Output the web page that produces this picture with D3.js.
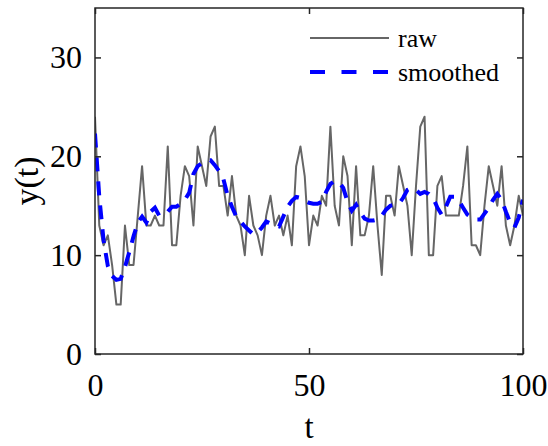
<!DOCTYPE html>
<html>
<head>
<meta charset="utf-8">
<script src="https://cdn.jsdelivr.net/npm/d3@7"></script>
<style>
  body { margin: 0; background: #fff; }
  svg { display: block; }
  text { font-family: "Liberation Serif", "Times New Roman", Times, "DejaVu Serif", serif; fill: #000; }
</style>
</head>
<body>
<svg id="chart" width="548" height="446"></svg>
<script>
// raw observations, one per time step t = 0..100
var raw = [24, 13, 11, 12, 9, 5, 5, 13, 9, 9,
           14, 19, 13, 13, 14, 13, 13, 21, 11, 11,
           16, 19, 18, 13, 21, 19, 17, 22, 23, 17,
           17, 14, 18, 14, 13, 10, 16, 13, 12, 10,
           14, 16, 13, 14, 12, 14, 11, 19, 21, 18,
           11, 14, 13, 16, 15, 23, 15, 13, 20, 18,
           11, 19, 12, 12, 14, 19, 13, 8, 16, 16,
           14, 19, 17, 15, 10, 17, 23, 24, 10, 10,
           17, 18, 14, 14, 14, 14, 17, 21, 11, 11,
           10, 15, 19, 17, 15, 19, 13, 11, 13, 16,
           14];

// smoothed estimate
var smoothed = [22.3, 15.9, 11.5, 8.9, 7.9, 7.5, 7.6, 8.8, 10.3, 11.9,
                13.3, 13.9, 13.3, 14.4, 14.8, 14.0, 14.1, 14.4, 14.9, 14.9,
                15.2, 15.6, 16.3, 18.2, 19.0, 19.3, 19.6, 19.6, 19.1, 18.5,
                17.7, 16.0, 14.9, 13.9, 13.4, 12.9, 12.5, 12.1, 12.3, 12.8,
                13.4, 13.2, 13.0, 12.9, 13.9, 14.9, 15.5, 15.9, 15.8, 15.5,
                15.3, 15.2, 15.2, 15.4, 16.4, 17.2, 17.5, 17.4, 16.8, 15.4,
                14.5, 15.1, 14.3, 13.7, 13.5, 13.5, 13.6, 14.0, 14.6, 15.0,
                15.1, 15.2, 15.8, 16.6, 16.8, 16.6, 16.2, 16.4, 16.2, 15.8,
                14.8, 14.1, 14.9, 15.9, 15.9, 15.5, 14.8, 14.1, 13.8, 13.6,
                13.6, 14.2, 14.8, 15.6, 16.2, 15.6, 14.4, 13.3, 12.8, 13.8,
                15.6];

var xTicks = [0, 50, 100];
var yTicks = [0, 10, 20, 30];
var legendLabels = ["raw", "smoothed"];

var serif = "'Liberation Serif', 'Times New Roman', Times, 'DejaVu Serif', serif";

var svg = d3.select("#chart");
var pLeft = 95, pRight = 523, pTop = 8, pBottom = 354;

var x = d3.scaleLinear().domain([0, 100]).range([pLeft, pRight]);
var y = d3.scaleLinear().domain([0, 35]).range([pBottom, pTop]);

svg.append("clipPath").attr("id", "clip")
   .append("rect")
   .attr("x", pLeft).attr("y", pTop)
   .attr("width", pRight - pLeft).attr("height", pBottom - pTop);

var line = d3.line()
  .x(function(d, i){ return x(i); })
  .y(function(d){ return y(d); });

var plot = svg.append("g").attr("clip-path", "url(#clip)");

plot.append("path")
  .datum(raw)
  .attr("d", line)
  .attr("fill", "none")
  .attr("stroke", "#666666")
  .attr("stroke-width", 2)
  .attr("stroke-linejoin", "round");

plot.append("path")
  .datum(smoothed)
  .attr("d", line)
  .attr("fill", "none")
  .attr("stroke", "#0000ff")
  .attr("stroke-width", 4)
  .attr("stroke-dasharray", "14,10");

// axes with inward ticks, box on
var axisColor = "#262626";
var tickLen = 6;

function styleAxis(g){
  g.attr("font-family", serif).attr("font-size", 32);
  g.select(".domain").remove();
  g.selectAll(".tick line").attr("stroke", axisColor).attr("stroke-width", 1.5);
  g.selectAll(".tick text")
    .style("font-family", serif)
    .style("font-size", "32px")
    .attr("fill", "#000");
}

svg.append("g")
  .attr("transform", "translate(0," + pBottom + ")")
  .call(d3.axisBottom(x).tickValues(xTicks).tickSize(-tickLen).tickPadding(19).tickFormat(d3.format("d")))
  .call(styleAxis);

svg.append("g")
  .attr("transform", "translate(0," + pTop + ")")
  .call(d3.axisTop(x).tickValues(xTicks).tickSize(-tickLen).tickFormat(""))
  .call(styleAxis);

svg.append("g")
  .attr("transform", "translate(" + pLeft + ",0)")
  .call(d3.axisLeft(y).tickValues(yTicks).tickSize(-tickLen).tickPadding(13).tickFormat(d3.format("d")))
  .call(styleAxis);

svg.append("g")
  .attr("transform", "translate(" + pRight + ",0)")
  .call(d3.axisRight(y).tickValues(yTicks).tickSize(-tickLen).tickFormat(""))
  .call(styleAxis);

svg.append("rect")
  .attr("x", pLeft).attr("y", pTop)
  .attr("width", pRight - pLeft).attr("height", pBottom - pTop)
  .attr("fill", "none")
  .attr("stroke", axisColor)
  .attr("stroke-width", 1.5);

// axis labels
svg.append("text")
  .attr("x", (pLeft + pRight) / 2)
  .attr("y", 438)
  .attr("text-anchor", "middle")
  .style("font-family", serif)
  .style("font-size", "33px")
  .text("t");

svg.append("text")
  .attr("transform", "translate(38," + ((pTop + pBottom) / 2) + ") rotate(-90)")
  .attr("text-anchor", "middle")
  .style("font-family", serif)
  .style("font-size", "34px")
  .text("y(t)");

// legend
var legend = svg.append("g");
var legY = [38, 72];

legend.append("line")
  .attr("x1", 310).attr("x2", 389)
  .attr("y1", legY[0]).attr("y2", legY[0])
  .attr("stroke", "#666666").attr("stroke-width", 2);

legend.append("line")
  .attr("x1", 310).attr("x2", 389)
  .attr("y1", legY[1]).attr("y2", legY[1])
  .attr("stroke", "#0000ff").attr("stroke-width", 4)
  .attr("stroke-dasharray", "15,16.5");

legend.selectAll("text.leg")
  .data(legendLabels)
  .enter().append("text")
  .attr("class", "leg")
  .attr("x", 398)
  .attr("y", function(d, i){ return legY[i] + 9; })
  .style("font-family", serif)
  .style("font-size", "26px")
  .text(function(d){ return d; });
</script>
</body>
</html>
